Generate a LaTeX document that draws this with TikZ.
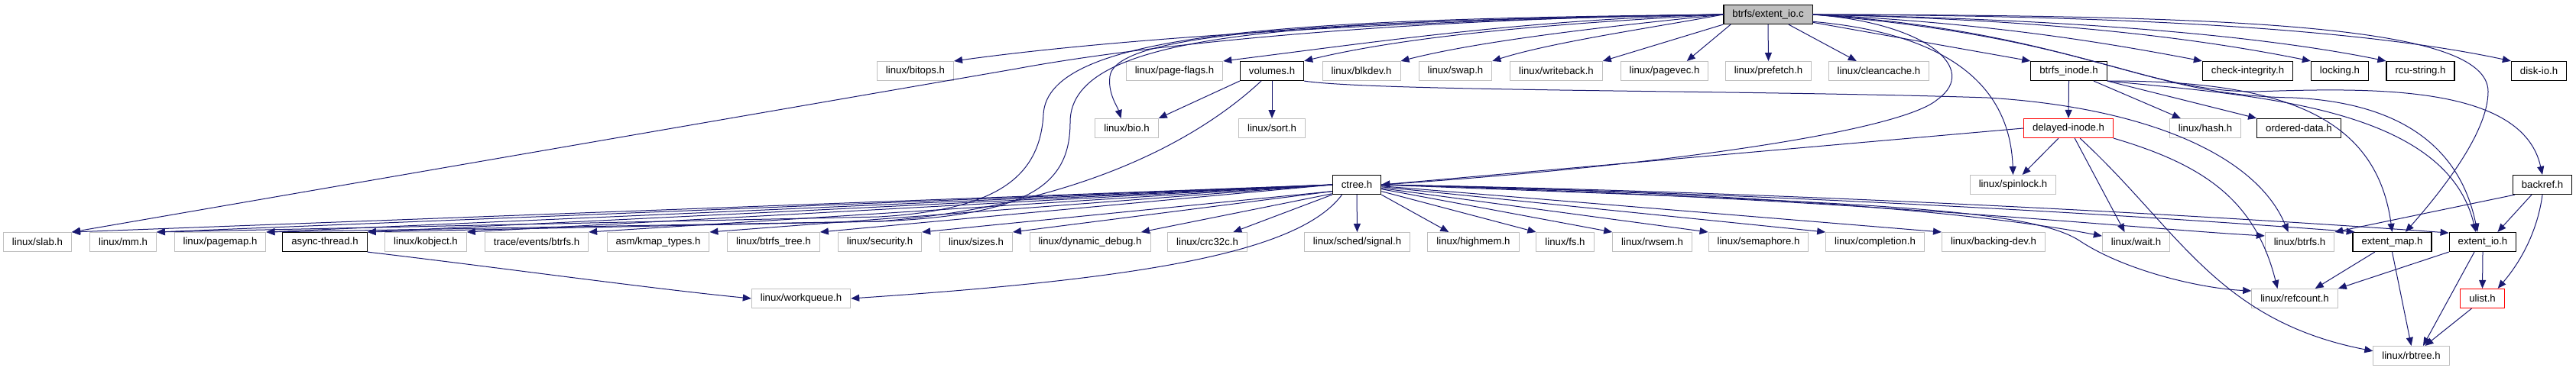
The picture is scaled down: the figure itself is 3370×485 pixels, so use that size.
\documentclass[tikz,border=0pt]{standalone}
\usepackage{fontspec}
\setmainfont{Liberation Sans}
\usetikzlibrary{arrows.meta}
\definecolor{depblue}{HTML}{191970}
\definecolor{extgray}{HTML}{BFBFBF}

\begin{document}
\begin{tikzpicture}[
    x=1pt, y=1pt,
    hdr/.style={draw=extgray, line width=1pt, fill=white, inner xsep=11.5pt,
                inner ysep=2pt, minimum height=25pt,
                font=\fontsize{13.2}{15}\selectfont},
    dochdr/.style={hdr, draw=black, line width=1.2pt},
    cuthdr/.style={hdr, draw=red, line width=1.2pt},
    srcnode/.style={hdr, draw=black, fill=extgray, line width=1.2pt},
    dep/.style={-{Triangle[length=11pt,width=9pt]}, depblue, line width=1pt},
  ]
    \useasboundingbox (0,0) rectangle (3370,-485);

    % The source file
    \node[srcnode] (extentioc) at (2313,-19) {btrfs/extent\_io.c};

    % First row of includes
    \node[hdr] (bitops) at (1197.5,-93) {linux/bitops.h};
    \node[hdr] (pageflags) at (1536.5,-93) {linux/page-flags.h};
    \node[dochdr] (volumes) at (1664,-93) {volumes.h};
    \node[hdr] (blkdev) at (1781,-93) {linux/blkdev.h};
    \node[hdr] (swap) at (1904,-93) {linux/swap.h};
    \node[hdr] (writeback) at (2036,-93) {linux/writeback.h};
    \node[hdr] (pagevec) at (2177.5,-93) {linux/pagevec.h};
    \node[hdr] (prefetch) at (2313.5,-93) {linux/prefetch.h};
    \node[hdr] (cleancache) at (2458,-93) {linux/cleancache.h};
    \node[dochdr] (btrfsinode) at (2706.5,-93) {btrfs\_inode.h};
    \node[dochdr] (checkint) at (2940.5,-93) {check-integrity.h};
    \node[dochdr] (locking) at (3061,-93) {locking.h};
    \node[dochdr] (rcustring) at (3166.5,-93) {rcu-string.h};
    \node[dochdr] (diskio) at (3321.5,-93) {disk-io.h};

    % Second row
    \node[hdr] (bio) at (1474,-168) {linux/bio.h};
    \node[hdr] (sort) at (1664,-168) {linux/sort.h};
    \node[cuthdr] (delayed) at (2706,-168) {delayed-inode.h};
    \node[hdr] (hash) at (2885,-168) {linux/hash.h};
    \node[dochdr] (ordered) at (3007.5,-168) {ordered-data.h};

    % Third row
    \node[dochdr] (ctree) at (1775,-242) {ctree.h};
    \node[hdr] (spinlock) at (2633.5,-242) {linux/spinlock.h};
    \node[dochdr] (backref) at (3326,-242) {backref.h};

    % Fourth row
    \node[hdr] (slab) at (49,-317) {linux/slab.h};
    \node[hdr] (mm) at (161,-317) {linux/mm.h};
    \node[hdr] (pagemap) at (288,-317) {linux/pagemap.h};
    \node[dochdr] (asyncthread) at (425,-317) {async-thread.h};
    \node[hdr] (kobject) at (557,-317) {linux/kobject.h};
    \node[hdr] (traceev) at (702,-317) {trace/events/btrfs.h};
    \node[hdr] (kmap) at (861,-317) {asm/kmap\_types.h};
    \node[hdr] (btrfstree) at (1012,-317) {linux/btrfs\_tree.h};
    \node[hdr] (security) at (1151,-317) {linux/security.h};
    \node[hdr] (sizes) at (1277,-317) {linux/sizes.h};
    \node[hdr] (dyndebug) at (1426,-317) {linux/dynamic\_debug.h};
    \node[hdr] (crc) at (1579.5,-317) {linux/crc32c.h};
    \node[hdr] (signal) at (1775.5,-317) {linux/sched/signal.h};
    \node[hdr] (highmem) at (1927.5,-317) {linux/highmem.h};
    \node[hdr] (fs) at (2047.5,-317) {linux/fs.h};
    \node[hdr] (rwsem) at (2161.5,-317) {linux/rwsem.h};
    \node[hdr] (semaphore) at (2300.5,-317) {linux/semaphore.h};
    \node[hdr] (completion) at (2453,-317) {linux/completion.h};
    \node[hdr] (backingdev) at (2608,-317) {linux/backing-dev.h};
    \node[hdr] (wait) at (2794.5,-317) {linux/wait.h};
    \node[hdr] (linuxbtrfs) at (3008.5,-317) {linux/btrfs.h};
    \node[dochdr] (extentmap) at (3129.5,-317) {extent\_map.h};
    \node[dochdr] (extentioh) at (3248,-317) {extent\_io.h};

    % Fifth and sixth rows
    \node[hdr] (workqueue) at (1048,-391) {linux/workqueue.h};
    \node[hdr] (refcount) at (3002,-391) {linux/refcount.h};
    \node[cuthdr] (ulist) at (3247.5,-391) {ulist.h};
    \node[hdr] (rbtree) at (3154.5,-466) {linux/rbtree.h};

    % Includes of the source file, left side
    \draw[dep] (extentioc.west) .. controls (1900,-25) and (1500,-45) .. (bitops.north east);
    \draw[dep] (extentioc.west) .. controls (1800,-25) and (1480,-62) .. (1330,-90) -- (slab.north east);
    \draw[dep] (extentioc.west) .. controls (1700,-25) and (1370,-40) .. (1365,-150)
      .. controls (1360,-235) and (1300,-275) .. (1150,-284) -- (mm.north east);
    \draw[dep] (extentioc.west) .. controls (1700,-28) and (1400,-40) .. (1400,-160)
      .. controls (1400,-240) and (1350,-282) .. (1150,-290) -- (pagemap.north east);
    \draw[dep] (extentioc.west) .. controls (1750,-28) and (1460,-40) .. (1452,-100)
      .. controls (1449,-122) and (1462,-140) .. (bio.120);
    \draw[dep] (extentioc.west) .. controls (2000,-25) and (1800,-55) .. (pageflags.north east);
    \draw[dep] (extentioc.west) .. controls (2050,-30) and (1850,-45) .. (volumes.north east);
    \draw[dep] (extentioc.west) .. controls (2150,-30) and (1950,-50) .. (blkdev.north east);
    \draw[dep] (extentioc.west) .. controls (2170,-35) and (2030,-55) .. (swap.north east);
    \draw[dep] (extentioc.south west) -- (writeback.north east);
    \draw[dep] (extentioc.195) -- (pagevec.24);
    \draw[dep] (extentioc.south) -- (prefetch.north);
    \draw[dep] (extentioc.334) -- (cleancache.156);

    % Includes of the source file, right side
    \draw[dep] (extentioc.350) -- (btrfsinode.north west);
    \draw[dep] (extentioc.east) .. controls (2600,-30) and (2750,-55) .. (checkint.north west);
    \draw[dep] (extentioc.east) .. controls (2650,-25) and (2850,-45) .. (locking.north west);
    \draw[dep] (extentioc.east) .. controls (2700,-25) and (2950,-45) .. (rcustring.north west);
    \draw[dep] (extentioc.east) .. controls (2800,-20) and (3100,-40) .. (diskio.north west);
    \draw[dep] (extentioc.east) .. controls (2520,-30) and (2590,-90) .. (2535,-130)
      .. controls (2490,-170) and (2200,-215) .. (ctree.east);
    \draw[dep] (extentioc.351) .. controls (2560,-45) and (2630,-120) .. (spinlock.north);
    \draw[dep] (extentioc.east) .. controls (2700,-40) and (2800,-120) .. (2950,-120)
      .. controls (3100,-115) and (3300,-110) .. (backref.north);
    \draw[dep] (extentioc.east) .. controls (2950,-20) and (3255,-35) .. (3255,-120)
      .. controls (3255,-175) and (3190,-255) .. (extentmap.37);
    \draw[dep] (extentioc.east) .. controls (2750,-50) and (2800,-125) .. (3000,-128)
      .. controls (3150,-135) and (3220,-200) .. (extentioh.118);

    % volumes.h
    \draw[dep] (volumes.south west) -- (bio.north east);
    \draw[dep] (volumes.south) -- (sort.north);
    \draw[dep] (volumes.223) .. controls (1560,-190) and (1400,-270) .. (1150,-290) -- (asyncthread.north east);
    \draw[dep] (volumes.south east) .. controls (1800,-120) and (2300,-118) .. (2600,-128)
      .. controls (2800,-140) and (2950,-200) .. (linuxbtrfs.139);

    % btrfs_inode.h
    \draw[dep] (btrfsinode.south) -- (delayed.north);
    \draw[dep] (btrfsinode.338) -- (hash.158);
    \draw[dep] (btrfsinode.south east) -- (ordered.north west);
    \draw[dep] (btrfsinode.south east) .. controls (3000,-105) and (3110,-160) .. (extentmap.north);
    \draw[dep] (btrfsinode.south east) .. controls (2950,-125) and (3200,-140) .. (extentioh.125);

    % delayed-inode.h
    \draw[dep] (delayed.west) -- (ctree.east);
    \draw[dep] (delayed.225) -- (spinlock.47);
    \draw[dep] (delayed.302) -- (wait.139);
    \draw[dep] (delayed.319) .. controls (2850,-300) and (2900,-420) .. (rbtree.173);
    \draw[dep] (delayed.south east) .. controls (2880,-215) and (2950,-260) .. (refcount.150);

    % ctree.h, to the left
    \draw[dep] (ctree.west) -- (slab.north east);
    \draw[dep] (ctree.west) -- (mm.north east);
    \draw[dep] (ctree.west) -- (pagemap.north east);
    \draw[dep] (ctree.west) -- (asyncthread.north east);
    \draw[dep] (ctree.west) -- (kobject.north east);
    \draw[dep] (ctree.west) -- (traceev.north east);
    \draw[dep] (ctree.west) -- (kmap.north east);
    \draw[dep] (ctree.west) -- (btrfstree.north east);
    \draw[dep] (ctree.195) -- (security.north east);
    \draw[dep] (ctree.195) -- (sizes.north east);
    \draw[dep] (ctree.200) -- (dyndebug.11);
    \draw[dep] (ctree.south west) -- (crc.21);
    \draw[dep] (ctree.214) .. controls (1700,-330) and (1500,-365) .. (workqueue.east);

    % ctree.h, downwards and to the right
    \draw[dep] (ctree.south) -- (signal.north);
    \draw[dep] (ctree.south east) -- (highmem.158);
    \draw[dep] (ctree.345) -- (fs.north west);
    \draw[dep] (ctree.350) -- (rwsem.north west);
    \draw[dep] (ctree.352) -- (semaphore.north west);
    \draw[dep] (ctree.355) -- (completion.north west);
    \draw[dep] (ctree.357) -- (backingdev.north west);
    \draw[dep] (ctree.east) .. controls (2300,-252) and (2600,-280) .. (wait.170);
    \draw[dep] (ctree.east) .. controls (2400,-258) and (2800,-300) .. (linuxbtrfs.170);
    \draw[dep] (ctree.east) .. controls (2400,-255) and (2900,-290) .. (extentmap.165);
    \draw[dep] (ctree.east) .. controls (2400,-252) and (3000,-290) .. (extentioh.165);
    \draw[dep] (ctree.east) .. controls (2400,-265) and (2650,-270) .. (2720,-315)
      .. controls (2780,-355) and (2880,-378) .. (refcount.170);

    % async-thread.h
    \draw[dep] (asyncthread.south east) .. controls (650,-350) and (850,-378) .. (workqueue.west);

    % backref.h
    \draw[dep] (backref.200) -- (linuxbtrfs.north east);
    \draw[dep] (backref.223) -- (extentioh.34);
    \draw[dep] (backref.south) .. controls (3320,-300) and (3300,-340) .. (ulist.33);

    % extent_map.h, extent_io.h and ulist.h
    \draw[dep] (extentmap.210) -- (refcount.26);
    \draw[dep] (extentmap.south) -- (rbtree.north);
    \draw[dep] (extentioh.south west) -- (refcount.north east);
    \draw[dep] (extentioh.230) -- (rbtree.40);
    \draw[dep] (extentioh.south) -- (ulist.north);
    \draw[dep] (ulist.223) -- (rbtree.36);
  \end{tikzpicture}
\end{document}
